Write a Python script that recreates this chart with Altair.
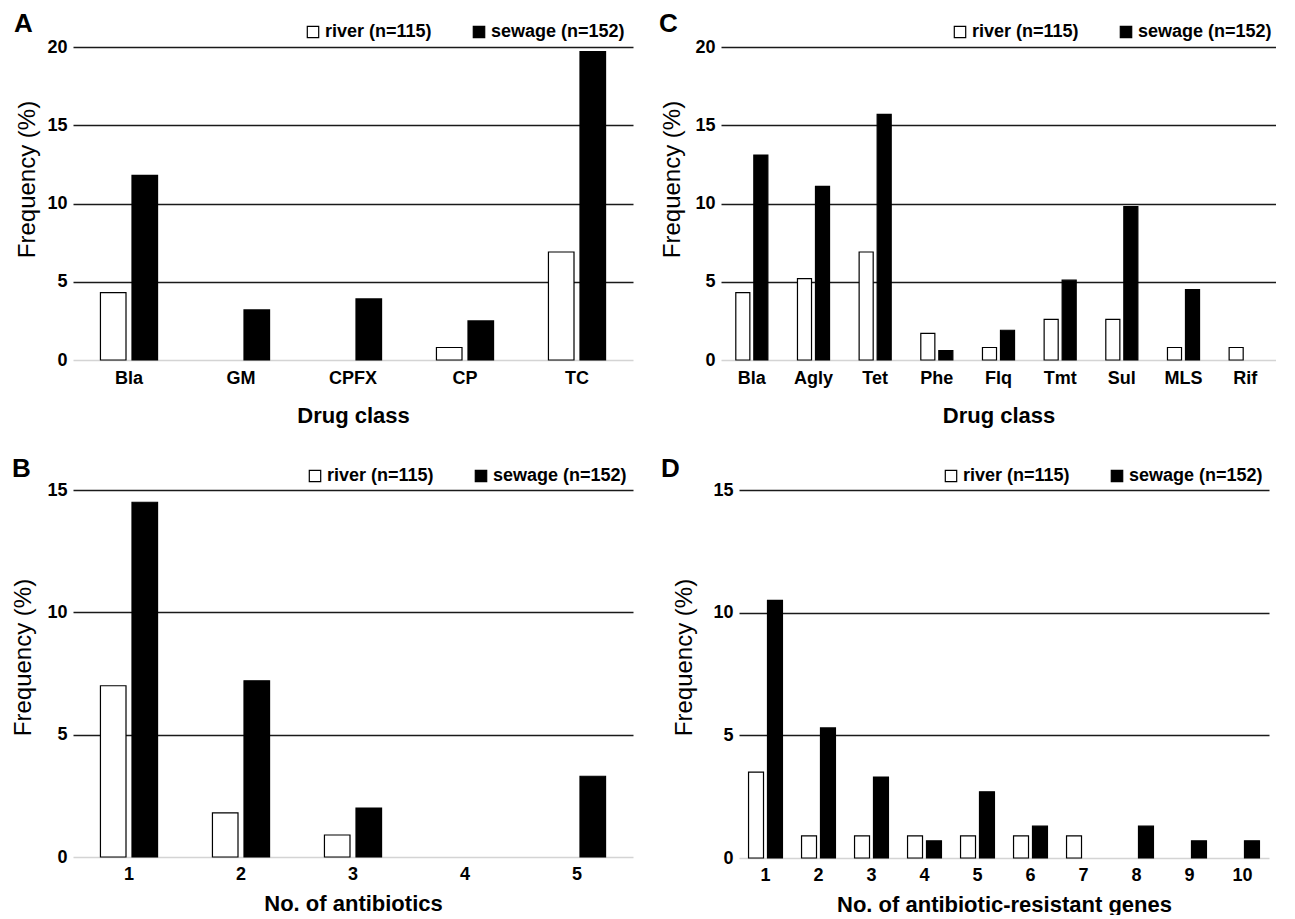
import altair as alt
import pandas as pd

RIVER = "river (n=115)"
SEWAGE = "sewage (n=152)"

# Panel A
a_cats = ["Bla", "GM", "CPFX", "CP", "TC"]
a_river = [4.3, 0, 0, 0.8, 6.9]
a_sewage = [11.8, 3.2, 3.9, 2.5, 19.7]

# Panel C
c_cats = ["Bla", "Agly", "Tet", "Phe", "Flq", "Tmt", "Sul", "MLS", "Rif"]
c_river = [4.3, 5.2, 6.9, 1.7, 0.8, 2.6, 2.6, 0.8, 0.8]
c_sewage = [13.1, 11.1, 15.7, 0.6, 1.9, 5.1, 9.8, 4.5, 0]

# Panel B
b_cats = ["1", "2", "3", "4", "5"]
b_river = [7.0, 1.8, 0.9, 0, 0]
b_sewage = [14.5, 7.2, 2.0, 0, 3.3]

# Panel D
d_cats = ["1", "2", "3", "4", "5", "6", "7", "8", "9", "10"]
d_river = [3.5, 0.9, 0.9, 0.9, 0.9, 0.9, 0.9, 0, 0, 0]
d_sewage = [10.5, 5.3, 3.3, 0.7, 2.7, 1.3, 0, 1.3, 0.7, 0.7]

FONT = "Liberation Sans"


def panel(cats, river, sewage, ymax, xtitle, letter, w, h, pi, pi2,
          lx, ly, tpad, ty, xlpad, xtpad, ldx, ldy):
    n = len(cats)
    df = pd.DataFrame({
        "cat": cats * 2,
        "group": [RIVER] * n + [SEWAGE] * n,
        "value": river + sewage,
    })
    return (
        alt.Chart(df)
        .transform_filter("datum.value > 0")
        .mark_bar(stroke="black", strokeWidth=1.2)
        .encode(
            x=alt.X("cat:N", sort=cats,
                    scale=alt.Scale(domain=cats, paddingInner=pi, paddingOuter=pi / 2),
                    axis=alt.Axis(title=xtitle, labelAngle=0, ticks=False, domain=False,
                                  labelFontSize=18, labelFontWeight="bold", labelPadding=xlpad,
                                  titleFontSize=22, titleFontWeight="bold", titlePadding=xtpad)),
            xOffset=alt.XOffset("group:N",
                                scale=alt.Scale(domain=[RIVER, SEWAGE], paddingInner=pi2, paddingOuter=0)),
            y=alt.Y("value:Q", scale=alt.Scale(domain=[0, ymax], nice=False),
                    axis=alt.Axis(title="Frequency (%)", values=list(range(0, ymax + 1, 5)),
                                  grid=True,
                                  gridColor={"condition": {"test": "datum.value === 0", "value": "#d4d4d4"},
                                             "value": "#1a1a1a"},
                                  gridWidth=1.6, domain=False, ticks=False,
                                  labelFontSize=18, labelFontWeight="bold", labelPadding=6,
                                  titleFontSize=24, titleFontWeight="normal", titlePadding=tpad,
                                  titleY=ty)),
            color=alt.Color("group:N",
                            scale=alt.Scale(domain=[RIVER, SEWAGE], range=["white", "black"]),
                            legend=alt.Legend(title=None, orient="none", legendX=lx, legendY=ly,
                                              direction="horizontal", symbolType="square",
                                              symbolSize=130, symbolStrokeColor="black",
                                              symbolStrokeWidth=1.2, symbolOpacity=1,
                                              labelFontSize=18, labelFontWeight="bold",
                                              labelOffset=3, columnPadding=38)),
        )
        .properties(width=w, height=h,
                    title=alt.TitleParams(letter, anchor="start", fontSize=26, fontWeight="bold",
                                          dx=ldx, dy=ldy))
    )


A = panel(a_cats, a_river, a_sewage, 20, "Drug class", "A", 560, 313, 0.49, 0.19,
          231, -24, 7, 132, 9, 18, -2, 18)
C = panel(c_cats, c_river, c_sewage, 20, "Drug class", "C", 555, 313, 0.48, 0.22,
          230, -24, 10, 132, 9, 18, -2, 18)
B = panel(b_cats, b_river, b_sewage, 15, "No. of antibiotics", "B", 560, 367, 0.49, 0.19,
          233, -23, 11, 167, 8, 10, 0, 19)
D = panel(d_cats, d_river, d_sewage, 15, "No. of antibiotic-resistant genes", "D", 530, 368, 0.36, 0.21,
          203, -23, 16, 167, 8, 10, -12, 19)

RES = dict(x="independent", y="independent", color="independent", xOffset="independent")

top = alt.hconcat(A, C, spacing=25).resolve_scale(**RES).resolve_legend(color="independent")
bottom = alt.hconcat(B, D, spacing=27).resolve_scale(**RES).resolve_legend(color="independent")

chart = (
    alt.vconcat(top, bottom, spacing=30)
    .resolve_scale(**RES)
    .resolve_legend(color="independent")
    .properties(padding={"left": 3, "top": 3, "right": 0, "bottom": 0})
    .configure(font=FONT)
    .configure_view(stroke=None)
    .configure_axis(labelColor="black", titleColor="black", labelFont=FONT, titleFont=FONT)
    .configure_legend(labelColor="black", labelFont=FONT)
    .configure_title(color="black", font=FONT)
)

chart.save("out.html", embed_options={"renderer": "svg", "actions": False})
